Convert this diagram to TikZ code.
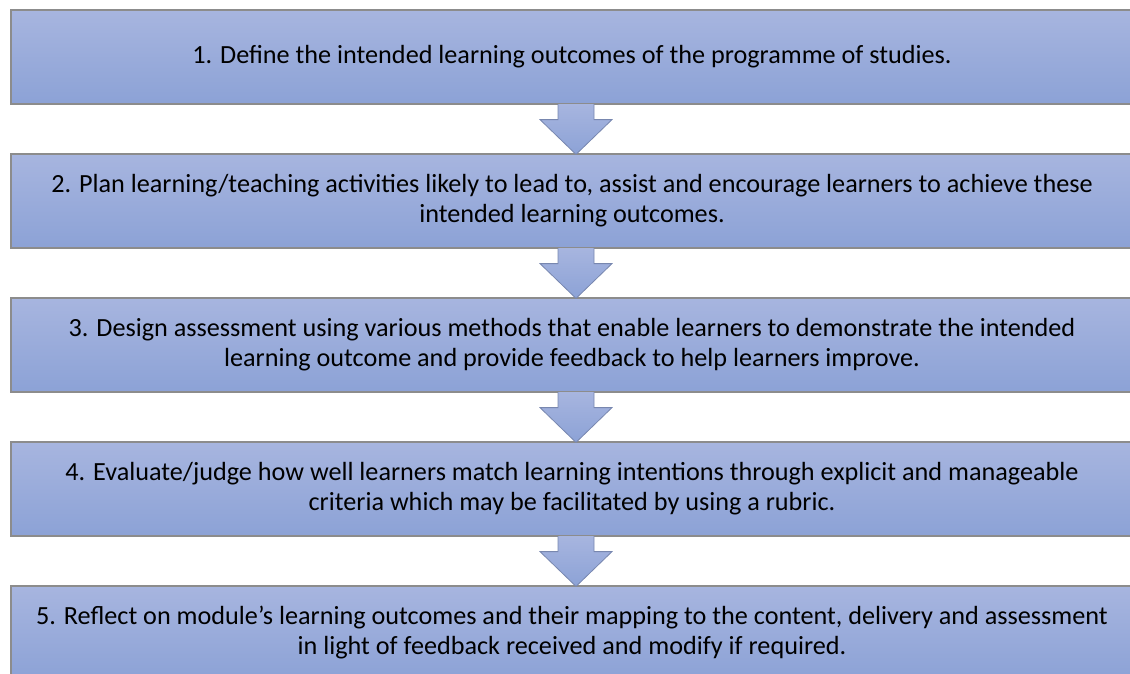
\documentclass[tikz,border=0pt]{standalone}
\usepackage{fontspec}
\setmainfont{Carlito}
\usetikzlibrary{calc}
\definecolor{boxtop}{RGB}{167,181,223}
\definecolor{boxbot}{RGB}{140,162,214}
\definecolor{boxline}{RGB}{140,140,140}
\definecolor{arrline}{RGB}{120,135,175}
\tikzset{
  stepbox/.style={draw=boxline, line width=1.2pt, top color=boxtop, bottom color=boxbot,
    minimum width=1122pt, minimum height=94pt, inner sep=0pt, align=center,
    font=\fontsize{26.2pt}{30pt}\selectfont, text=black},
  blockarrow/.style={draw=arrline, line width=0.8pt, top color=boxtop, bottom color=boxbot, line join=miter}
}
\newcommand{\blockdown}[2]{%
  \path[blockarrow]
    ($(#1.south)+(-14,0.5)$) -- ($(#1.south)+(-14,-15)$) -- ($(#1.south)+(-32,-15)$)
    -- ($(#2.north)+(4,-1)$) -- ($(#1.south)+(40,-15)$) -- ($(#1.south)+(22,-15)$)
    -- ($(#1.south)+(22,0.5)$);}
\begin{document}
\begin{tikzpicture}[x=1pt,y=1pt]
\useasboundingbox (0,0) rectangle (1130,-673);
\node[stepbox] (b1) at (572,-57) {1. Define the intended learning outcomes of the programme of studies.};
\node[stepbox] (b2) at (572,-201) {2. Plan learning/teaching activities likely to lead to, assist and encourage learners to achieve these\\intended learning outcomes.};
\node[stepbox] (b3) at (572,-345) {3. Design assessment using various methods that enable learners to demonstrate the intended\\learning outcome and provide feedback to help learners improve.};
\node[stepbox] (b4) at (572,-489) {4. Evaluate/judge how well learners match learning intentions through explicit and manageable\\criteria which may be facilitated by using a rubric.};
\node[stepbox] (b5) at (572,-633) {5. Reflect on module’s learning outcomes and their mapping to the content, delivery and assessment\\in light of feedback received and modify if required.};
\blockdown{b1}{b2}
\blockdown{b2}{b3}
\blockdown{b3}{b4}
\blockdown{b4}{b5}
\end{tikzpicture}
\end{document}
